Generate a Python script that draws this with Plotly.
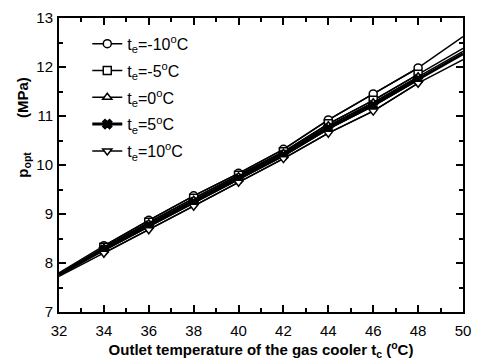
import plotly.graph_objects as go

# Outlet temperature of the gas cooler (°C)
t_c = [32, 34, 36, 38, 40, 42, 44, 46, 48, 50]

# Optimal discharge pressure (MPa) for each evaporating temperature
p_m10 = [7.80, 8.35, 8.87, 9.37, 9.83, 10.32, 10.92, 11.45, 11.98, 12.62]
p_m5 = [7.78, 8.32, 8.83, 9.32, 9.79, 10.27, 10.84, 11.32, 11.85, 12.38]
p_0 = [7.77, 8.30, 8.80, 9.28, 9.76, 10.24, 10.80, 11.27, 11.80, 12.32]
p_5 = [7.76, 8.27, 8.76, 9.24, 9.72, 10.20, 10.75, 11.22, 11.75, 12.27]
p_10 = [7.73, 8.20, 8.68, 9.16, 9.65, 10.13, 10.65, 11.10, 11.67, 12.15]

labels = ["t<sub>e</sub>=-10<sup>o</sup>C", "t<sub>e</sub>=-5<sup>o</sup>C",
          "t<sub>e</sub>=0<sup>o</sup>C", "t<sub>e</sub>=5<sup>o</sup>C",
          "t<sub>e</sub>=10<sup>o</sup>C"]
series = [p_m10, p_m5, p_0, p_5, p_10]
symbols = ["circle", "square", "triangle-up", "x", "triangle-down"]
fills = ["white", "white", "white", "black", "white"]
widths = [1.5, 1.5, 1.5, 3, 1.5]

FONT = "Liberation Sans, Arial, sans-serif"

fig = go.Figure()
for i, (name, y, sym, fc, w) in enumerate(zip(labels, series, symbols, fills, widths)):
    grp = f"g{i}"
    # full curve across the axis range
    fig.add_trace(go.Scatter(
        x=t_c, y=y, mode="lines", legendgroup=grp, showlegend=False,
        line=dict(color="black", width=w), hoverinfo="skip",
    ))
    # markers at the interior computed points
    fig.add_trace(go.Scatter(
        x=t_c[1:-1], y=y[1:-1], name=name, mode="lines+markers", legendgroup=grp,
        line=dict(color="black", width=w),
        marker=dict(symbol=sym, size=8, color=fc,
                    line=dict(color="black", width=1.5)),
    ))

axis_common = dict(
    showline=True, linecolor="black", linewidth=2, mirror="allticks",
    ticks="inside", ticklen=7, tickwidth=2, tickcolor="black",
    showgrid=False, zeroline=False,
    minor=dict(ticks="inside", ticklen=4, tickwidth=1.5, tickcolor="black"),
    tickfont=dict(family=FONT, size=15, color="black"),
)

fig.update_xaxes(range=[32, 50], dtick=2, minor_dtick=1, ticklabelstandoff=4, **axis_common,
                 title=dict(text="<b>Outlet temperature of the gas cooler t<sub>c</sub> (<sup>o</sup>C)</b>",
                            font=dict(family=FONT, size=15, color="black"), standoff=2))
fig.update_yaxes(range=[7, 13], dtick=1, minor_dtick=0.5, ticklabelstandoff=1, **axis_common)

# y-axis title split into symbol and unit
fig.add_annotation(text="<b>p<sub>opt</sub></b>", xref="paper", yref="paper",
                   x=-0.09, y=0.50, xanchor="center", yanchor="middle",
                   textangle=-90, showarrow=False,
                   font=dict(family=FONT, size=15, color="black"))
fig.add_annotation(text="<b>(MPa)</b>", xref="paper", yref="paper",
                   x=-0.09, y=0.73, xanchor="center", yanchor="middle",
                   textangle=-90, showarrow=False,
                   font=dict(family=FONT, size=15, color="black"))

fig.update_layout(
    width=480, height=361,
    margin=dict(l=59, r=9, t=17, b=45),
    paper_bgcolor="white", plot_bgcolor="white",
    showlegend=True,
    legend=dict(x=0.07, y=0.97, xanchor="left", yanchor="top",
                bgcolor="rgba(0,0,0,0)", borderwidth=0,
                font=dict(family=FONT, size=16, color="black"),
                traceorder="grouped", tracegroupgap=3),
)

fig.write_html("out.html")
